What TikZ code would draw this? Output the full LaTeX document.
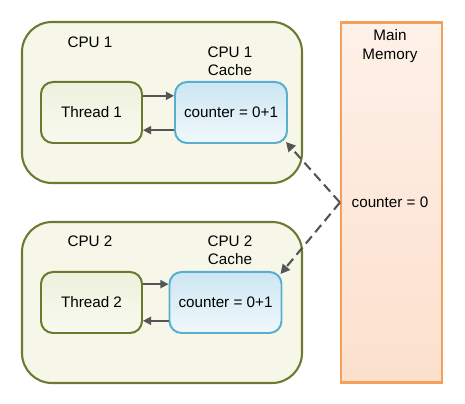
\documentclass[tikz,border=0pt]{standalone}
\usepackage{fontspec}
\setmainfont{Liberation Sans}
\usetikzlibrary{arrows.meta}
\definecolor{cpuline}{HTML}{6E7A32}
\definecolor{cpufill}{HTML}{F6F7E9}
\definecolor{thline}{HTML}{6B792C}
\definecolor{thtop}{HTML}{EEF1DC}
\definecolor{thbot}{HTML}{F9FAF0}
\definecolor{cacheline}{HTML}{5AAFCE}
\definecolor{cachetop}{HTML}{CDE6F2}
\definecolor{cachebot}{HTML}{F0F8FB}
\definecolor{memline}{HTML}{F4A05A}
\definecolor{memtop}{HTML}{FEF1E8}
\definecolor{membot}{HTML}{FCE0CD}
\definecolor{arrowgray}{HTML}{555555}

\begin{document}
\begin{tikzpicture}[x=0.03cm,y=-0.03cm,font=\fontsize{13}{15.5}\selectfont,
  cpu/.style={draw=cpuline,line width=1.8pt,fill=cpufill,rounded corners=0.9cm,minimum width=8.4cm,minimum height=4.83cm},
  thread/.style={draw=thline,line width=1.7pt,top color=thtop,bottom color=thbot,rounded corners=0.36cm,minimum width=3.03cm,minimum height=1.83cm},
  cache/.style={draw=cacheline,line width=1.7pt,top color=cachetop,bottom color=cachebot,rounded corners=0.36cm,minimum width=3.36cm,minimum height=1.83cm},
  flow/.style={-{Triangle[length=7pt,width=7pt]},arrowgray,line width=1.4pt},
  fetch/.style={-{Triangle[length=8pt,width=8pt]},arrowgray,line width=1.8pt,dash pattern=on 8pt off 4.5pt}]
  \useasboundingbox (0,0) rectangle (465,404);
  % processors
  \node[cpu] (cpuA) at (162,102.5) {}; \node[cpu] (cpuB) at (162,302.5) {};
  \node (cpuAlbl) at (90,42) {CPU 1}; \node (cpuBlbl) at (90,241) {CPU 2};
  \node[align=center] (cacheAlbl) at (230,61) {CPU 1\\Cache}; \node[align=center] (cacheBlbl) at (230,250) {CPU 2\\Cache};
  \node[thread] (thA) at (91.5,112.5) {Thread 1}; \node[cache] (caA) at (231,112.5) {counter = 0+1};
  \node[thread] (thB) at (91.5,302.5) {Thread 2}; \node[cache] (caB) at (225.5,302.5) {counter = 0+1};
  % main memory
  \node[draw=memline,line width=1.8pt,top color=memtop,bottom color=membot,minimum width=3.03cm,minimum height=10.8cm] (mem) at (391.5,202.5) {};
  \node[align=center] (memlbl) at (390,46) {Main\\Memory}; \node (memval) at (390,202) {counter = 0};
  % read / write
  \draw[flow] ([yshift=0.5cm]thA.east) -- ([yshift=0.5cm]caA.west); \draw[flow] ([yshift=-0.53cm]caA.west) -- ([yshift=-0.53cm]thA.east);
  \draw[flow] ([yshift=0.55cm]thB.east) -- ([yshift=0.55cm]caB.west); \draw[flow] ([yshift=-0.55cm]caB.west) -- ([yshift=-0.55cm]thB.east);
  \draw[fetch] (mem.west) -- ([shift={(-2,-2)}]caA.south east); \draw[fetch] (mem.west) -- ([shift={(-2,3)}]caB.north east);
\end{tikzpicture}
\end{document}
